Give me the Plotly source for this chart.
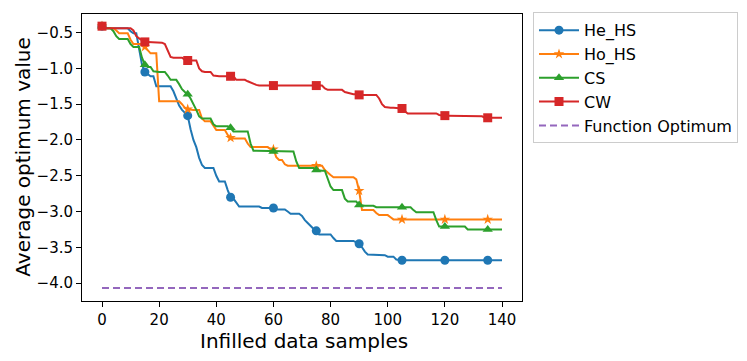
import plotly.graph_objects as go

samples = list(range(0, 141))

he_hs = [
    -0.41, -0.44, -0.44, -0.44, -0.44, -0.44, -0.44, -0.44, -0.44, -0.44,
    -0.48, -0.51, -0.51, -0.75, -0.95, -1.05, -1.08, -1.11, -1.11, -1.25,
    -1.25, -1.25, -1.25, -1.25, -1.25, -1.32, -1.42, -1.52, -1.58, -1.62,
    -1.66, -1.85, -2.00, -2.10, -2.25, -2.35, -2.39, -2.39, -2.39, -2.39,
    -2.50, -2.58, -2.58, -2.58, -2.70, -2.80, -2.82, -2.88, -2.93, -2.93,
    -2.93, -2.93, -2.93, -2.93, -2.93, -2.93, -2.95, -2.95, -2.95, -2.95,
    -2.95, -2.97, -2.97, -2.97, -2.97, -3.00, -3.03, -3.03, -3.03, -3.03,
    -3.06, -3.12, -3.16, -3.20, -3.24, -3.27, -3.32, -3.32, -3.32, -3.32,
    -3.32, -3.37, -3.41, -3.41, -3.41, -3.41, -3.41, -3.41, -3.41, -3.43,
    -3.45, -3.50, -3.56, -3.60, -3.60, -3.60, -3.60, -3.60, -3.60, -3.61,
    -3.63, -3.63, -3.63, -3.67, -3.68, -3.68, -3.68, -3.68, -3.68, -3.68,
    -3.68, -3.68, -3.68, -3.68, -3.68, -3.68, -3.68, -3.68, -3.68, -3.68,
    -3.68, -3.68, -3.68, -3.68, -3.68, -3.68, -3.68, -3.68, -3.68, -3.68,
    -3.68, -3.68, -3.68, -3.68, -3.68, -3.68, -3.68, -3.68, -3.68, -3.68,
    -3.68,
]

ho_hs = [
    -0.41, -0.44, -0.44, -0.44, -0.44, -0.47, -0.51, -0.51, -0.51, -0.51,
    -0.60, -0.66, -0.66, -0.66, -0.66, -0.70, -0.75, -0.79, -0.79, -0.79,
    -1.46, -1.46, -1.46, -1.46, -1.46, -1.46, -1.46, -1.46, -1.50, -1.55,
    -1.57, -1.58, -1.58, -1.58, -1.58, -1.70, -1.74, -1.74, -1.74, -1.80,
    -1.86, -1.86, -1.86, -1.86, -1.93, -1.97, -1.98, -1.98, -1.98, -1.98,
    -1.98, -2.05, -2.10, -2.10, -2.10, -2.10, -2.10, -2.10, -2.10, -2.13,
    -2.13, -2.24, -2.28, -2.28, -2.34, -2.36, -2.36, -2.36, -2.36, -2.36,
    -2.36, -2.36, -2.36, -2.36, -2.36, -2.36, -2.36, -2.36, -2.42, -2.46,
    -2.49, -2.52, -2.52, -2.52, -2.52, -2.52, -2.52, -2.52, -2.52, -2.55,
    -2.71, -2.98, -2.98, -2.98, -2.98, -2.98, -3.02, -3.05, -3.05, -3.05,
    -3.05, -3.08, -3.11, -3.11, -3.11, -3.11, -3.11, -3.11, -3.11, -3.11,
    -3.11, -3.11, -3.11, -3.11, -3.11, -3.11, -3.11, -3.11, -3.11, -3.11,
    -3.11, -3.11, -3.11, -3.11, -3.11, -3.11, -3.11, -3.11, -3.11, -3.11,
    -3.11, -3.11, -3.11, -3.11, -3.11, -3.11, -3.11, -3.11, -3.11, -3.11,
    -3.11,
]

cs = [
    -0.41, -0.44, -0.44, -0.44, -0.48, -0.55, -0.59, -0.59, -0.59, -0.59,
    -0.66, -0.70, -0.70, -0.70, -0.85, -0.95, -0.98, -0.98, -1.04, -1.05,
    -1.05, -1.05, -1.05, -1.10, -1.16, -1.16, -1.16, -1.22, -1.29, -1.33,
    -1.36, -1.42, -1.49, -1.58, -1.67, -1.70, -1.70, -1.70, -1.70, -1.78,
    -1.81, -1.81, -1.81, -1.81, -1.81, -1.83, -1.88, -1.88, -1.88, -1.88,
    -1.88, -1.88, -2.05, -2.15, -2.15, -2.15, -2.15, -2.15, -2.15, -2.15,
    -2.16, -2.16, -2.16, -2.16, -2.16, -2.16, -2.16, -2.16, -2.30, -2.39,
    -2.39, -2.39, -2.39, -2.39, -2.39, -2.42, -2.43, -2.43, -2.43, -2.55,
    -2.65, -2.70, -2.70, -2.70, -2.70, -2.82, -2.86, -2.86, -2.86, -2.86,
    -2.91, -2.92, -2.92, -2.92, -2.92, -2.92, -2.94, -2.94, -2.94, -2.94,
    -2.94, -2.94, -2.94, -2.94, -2.94, -2.94, -2.94, -2.94, -2.94, -2.98,
    -3.01, -3.01, -3.01, -3.01, -3.01, -3.01, -3.01, -3.12, -3.21, -3.21,
    -3.21, -3.21, -3.21, -3.21, -3.21, -3.21, -3.21, -3.21, -3.25, -3.25,
    -3.25, -3.25, -3.25, -3.25, -3.25, -3.25, -3.25, -3.25, -3.25, -3.25,
    -3.25,
]

cw = [
    -0.41, -0.44, -0.44, -0.44, -0.44, -0.44, -0.44, -0.44, -0.44, -0.44,
    -0.44, -0.47, -0.55, -0.58, -0.60, -0.63, -0.63, -0.63, -0.63, -0.63,
    -0.63, -0.64, -0.66, -0.75, -0.84, -0.85, -0.85, -0.85, -0.85, -0.88,
    -0.89, -0.89, -0.89, -0.89, -1.00, -1.04, -1.05, -1.05, -1.05, -1.10,
    -1.11, -1.11, -1.11, -1.11, -1.11, -1.11, -1.11, -1.16, -1.16, -1.16,
    -1.16, -1.18, -1.20, -1.22, -1.23, -1.24, -1.24, -1.24, -1.24, -1.24,
    -1.24, -1.24, -1.24, -1.24, -1.24, -1.24, -1.24, -1.24, -1.24, -1.24,
    -1.24, -1.24, -1.24, -1.24, -1.24, -1.24, -1.24, -1.24, -1.28, -1.30,
    -1.30, -1.30, -1.30, -1.30, -1.30, -1.33, -1.34, -1.36, -1.36, -1.36,
    -1.37, -1.37, -1.37, -1.37, -1.37, -1.37, -1.37, -1.42, -1.50, -1.54,
    -1.55, -1.55, -1.55, -1.55, -1.55, -1.56, -1.60, -1.63, -1.63, -1.63,
    -1.63, -1.63, -1.63, -1.63, -1.63, -1.63, -1.63, -1.63, -1.65, -1.66,
    -1.66, -1.66, -1.66, -1.67, -1.67, -1.67, -1.67, -1.67, -1.67, -1.67,
    -1.67, -1.67, -1.67, -1.67, -1.69, -1.69, -1.69, -1.69, -1.69, -1.69,
    -1.69,
]

function_optimum = -4.07
optimum_span = [0, 140]

series_names = ["He_HS", "Ho_HS", "CS", "CW"]
series_values = [he_hs, ho_hs, cs, cw]
series_colors = ["#1f77b4", "#ff7f0e", "#2ca02c", "#d62728"]
series_symbols = ["circle", "star", "triangle-up", "square"]
series_sizes = [9, 8, 9, 9]
mark_every = 15

x_ticks = [0, 20, 40, 60, 80, 100, 120, 140]
y_ticks = [-4.0, -3.5, -3.0, -2.5, -2.0, -1.5, -1.0, -0.5]
x_title = "Infilled data samples"
y_title = "Average optimum value"

fig = go.Figure()

for name, vals, color, sym, size in zip(series_names, series_values, series_colors,
                                         series_symbols, series_sizes):
    fig.add_trace(go.Scatter(
        x=samples, y=vals, mode="lines",
        line=dict(color=color, width=2),
        legendgroup=name, showlegend=False, hoverinfo="skip",
    ))
    mx, my = [], []
    for i in range(0, len(samples), mark_every):
        mx += [samples[i], None]
        my += [vals[i], None]
    fig.add_trace(go.Scatter(
        x=mx, y=my, mode="lines+markers", name=name,
        line=dict(color=color, width=2),
        marker=dict(symbol=sym, size=size, color=color),
        connectgaps=False, legendgroup=name,
    ))

fig.add_trace(go.Scatter(
    x=optimum_span, y=[function_optimum, function_optimum], mode="lines",
    name="Function Optimum",
    line=dict(color="#9467bd", width=2, dash="7px,4px"),
))

axis_common = dict(
    showgrid=False, zeroline=False, showline=True, mirror=True,
    linecolor="black", linewidth=1, ticks="outside", ticklen=5,
    tickwidth=1, tickcolor="black", tickfont=dict(size=15, color="black"),
    automargin=False,
)

# page body has an 8px margin, so the figure is offset by 8px right/down
fig.update_layout(
    width=747, height=361,
    margin=dict(l=74, r=233, t=6, b=68, autoexpand=False),
    plot_bgcolor="white", paper_bgcolor="white",
    font=dict(family="DejaVu Sans", color="black"),
    xaxis=dict(range=[-7, 147], tickvals=x_ticks, **axis_common),
    yaxis=dict(range=[-4.25, -0.24], tickvals=y_ticks, tickformat=".1f",
               **axis_common),
    legend=dict(x=1.025, y=1.006, xanchor="left", yanchor="top",
                bordercolor="#cccccc", borderwidth=1, bgcolor="white",
                font=dict(size=16), tracegroupgap=0, itemwidth=40),
    showlegend=True,
    annotations=[
        dict(text=x_title, xref="paper", yref="paper", x=0.505, y=-0.139,
             xanchor="center", yanchor="middle", showarrow=False,
             font=dict(size=20)),
        dict(text=y_title, xref="paper", yref="paper", x=-0.136, y=0.5,
             xanchor="center", yanchor="middle", showarrow=False,
             textangle=-90, font=dict(size=20)),
    ],
)

fig.write_html("out.html")
